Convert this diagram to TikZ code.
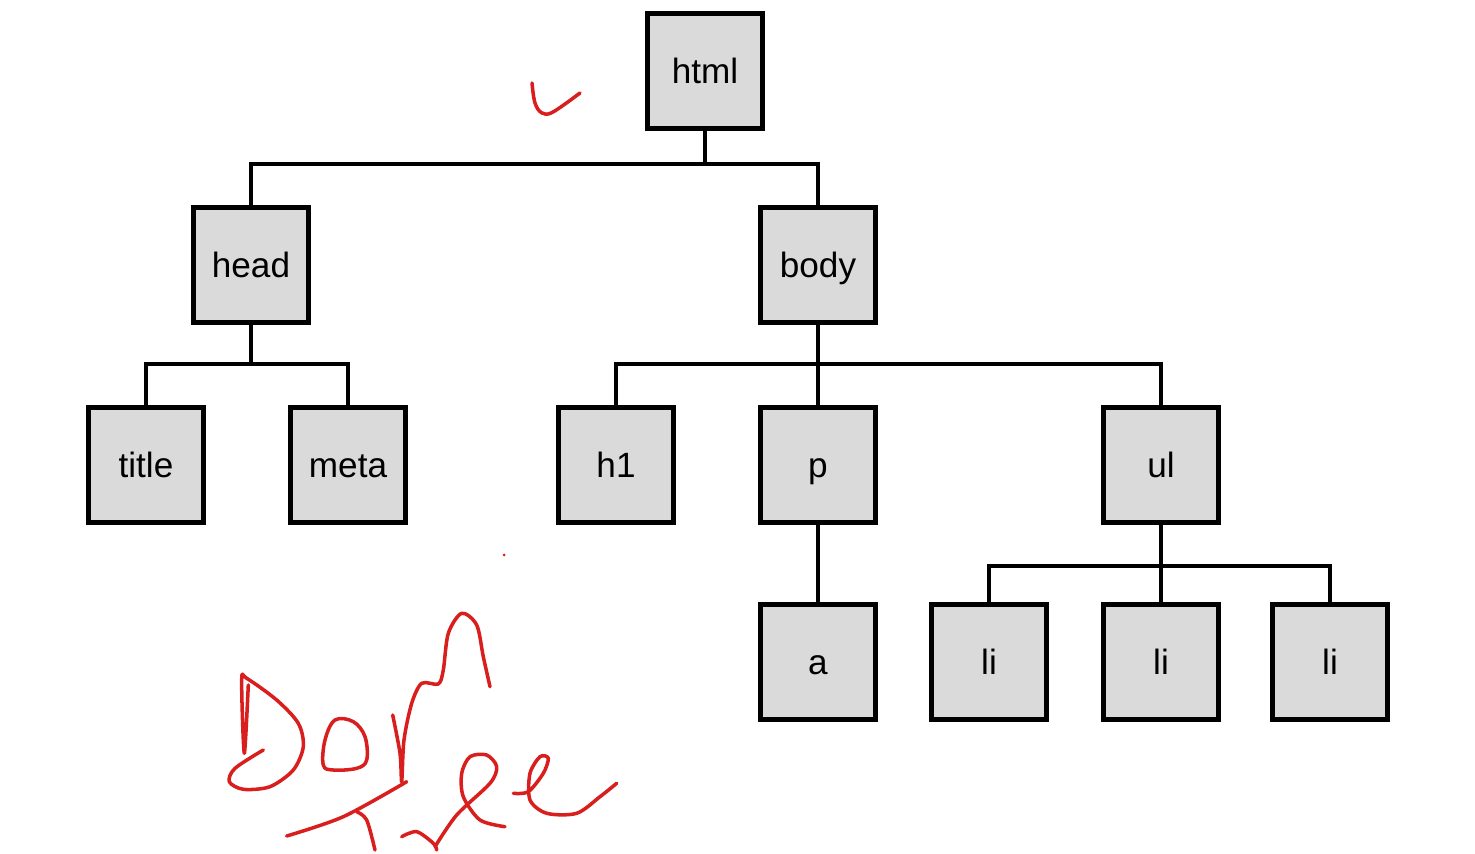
\documentclass[tikz,border=0pt]{standalone}
\usepackage{fontspec}
\setmainfont{Liberation Sans}
\usepackage{tikz}

\definecolor{boxgray}{HTML}{DADADA}
\definecolor{inkred}{HTML}{D91E1E}

\tikzset{
    tag/.style={draw=black, fill=boxgray, line width=2.8pt, minimum width=2.3cm,
        minimum height=2.3cm, inner sep=0pt, text height=16pt, text depth=2pt,
        font=\fontsize{20}{24}\selectfont},
    link/.style={line width=2.3pt},
    ink/.style={inkred, line width=2pt, line cap=round, line join=round}
}

\begin{document}
\begin{tikzpicture}[x=0.02cm, y=-0.02cm]
            \useasboundingbox (0,0) rectangle (1475,854);

            % Nodes at level 0
            \node[tag] (html) at (705,71) {html};

            % Nodes at level 1
            \node[tag] (head) at (251,265) {head};
            \node[tag] (body) at (818,265) {body};

            % Nodes at level 2
            \node[tag] (title) at (146,465) {title};
            \node[tag] (meta) at (348,465) {meta};
            \node[tag] (h1) at (616,465) {h1};
            \node[tag] (p) at (818,465) {p};
            \node[tag] (ul) at (1161,465) {ul};

            % Nodes at level 3
            \node[tag] (a) at (818,662) {a};
            \node[tag] (li1) at (989,662) {li};
            \node[tag] (li2) at (1161,662) {li};
            \node[tag] (li3) at (1330,662) {li};

            % Lines
            \draw[link] (html.south) -- ++(0,33) -| (head.north);
            \draw[link] (html.south) -- ++(0,33) -| (body.north);
            \draw[link] (head.south) -- ++(0,39) -| (title.north);
            \draw[link] (head.south) -- ++(0,39) -| (meta.north);
            \draw[link] (body.south) -- ++(0,39) -| (h1.north);
            \draw[link] (body.south) -- (p.north);
            \draw[link] (body.south) -- ++(0,39) -| (ul.north);
            \draw[link, line width=2.8pt] (p.south) -- (a.north);
            \draw[link] (ul.south) -- ++(0,41) -| (li1.north);
            \draw[link] (ul.south) -- (li2.north);
            \draw[link] (ul.south) -- ++(0,41) -| (li3.north);

            % Handwritten notes
            \draw[ink] plot[smooth, tension=0.6] coordinates {(532,83) (535,103) (542,113) (553,112) (580,93)};
            \draw[ink] plot[smooth, tension=0.5] coordinates {(248.3,685) (244.3,753.3) (241.7,680) (246.7,678.3)
                (276.7,700) (298.3,723.3) (303.3,746.7) (293.3,770) (270,786.7) (243.3,789.3)
                (229.3,781.7) (235,768.3) (263.3,750)};
            \draw[ink] plot[smooth cycle, tension=0.6] coordinates {(335,720) (353.3,721.7) (365,736.7) (366.7,760)
                (356.7,768.3) (333.3,770) (323.3,765) (325,740)};
            \draw[ink] plot[smooth, tension=0.5] coordinates {(392.7,715) (400,753.3) (401.7,781.7) (404,740)
                (411.7,703.3) (421.7,683.3) (438.3,684) (443.3,670) (448.3,633.3) (461.7,613.3)
                (476.7,625) (483.3,656.7) (490,686.7)};
            \draw[ink] plot[smooth, tension=0.5] coordinates {(286.7,836) (343.3,816.7) (406.7,781.7)};
            \draw[ink] plot[smooth, tension=0.5] coordinates {(356.7,811.7) (366.7,820) (375,850)};
            \draw[ink] plot[smooth, tension=0.5] coordinates {(401.7,836.7) (416.7,831.7) (433.3,843.3) (436.7,850)};
            \draw[ink] plot[smooth, tension=0.5] coordinates {(435,846.7) (456.7,815) (490,783.3) (496.7,766.7)
                (486.7,755) (470,756.7) (461.7,773.3) (463.3,796.7) (480,820) (505,826.7)};
            \draw[ink] plot[smooth, tension=0.5] coordinates {(513.3,793.3) (528.3,791.7) (543.3,773.3) (548.3,758.3)
                (540,756.7) (530,773.3) (530,800) (546.7,813.3) (576.7,813.3) (600,796.7) (616.7,783.3)};
            \fill[inkred] (504,555) circle (1.5);
        \end{tikzpicture}
\end{document}
